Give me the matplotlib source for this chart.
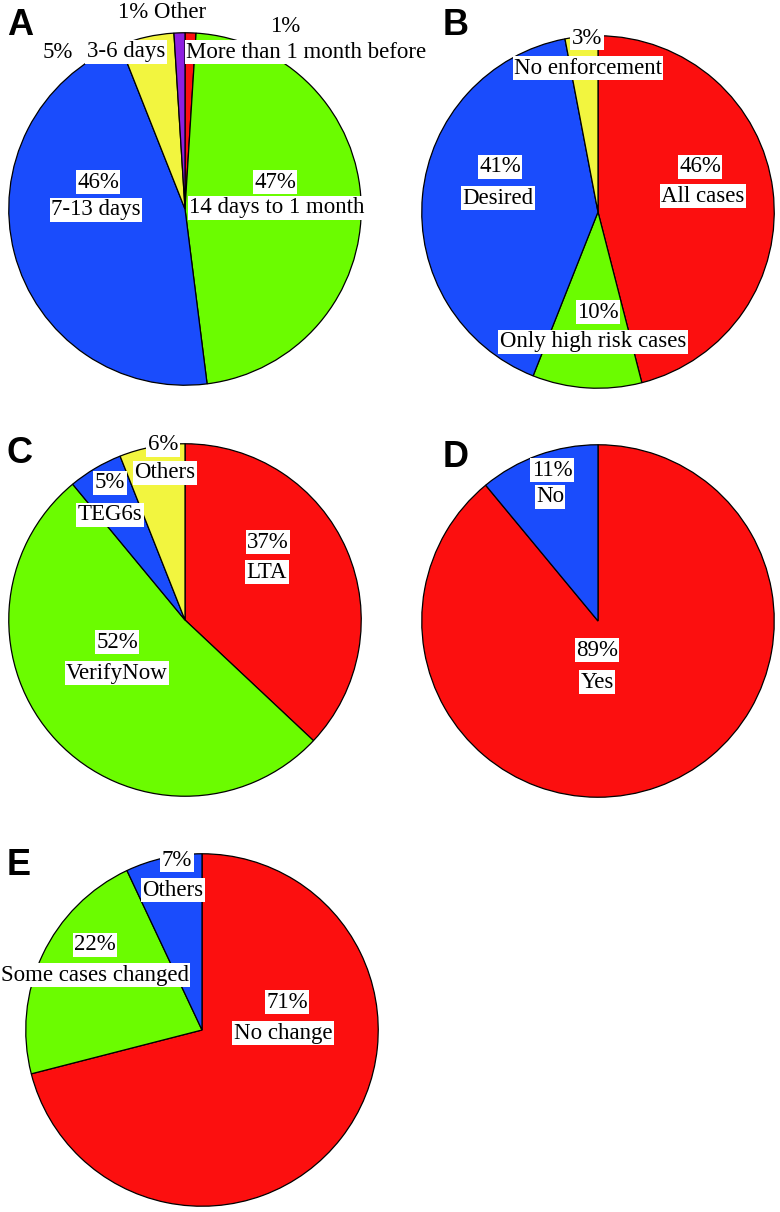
import matplotlib
matplotlib.use("Agg")
import matplotlib.pyplot as plt

W, H = 780, 1212
R = 178  # pie radius in px

red = '#FC0F0F'
green = '#6BFC00'
blue = '#1A4CFC'
yellow = '#F2F53F'
purple = '#8E1FE0'

# data, clockwise from 12 o'clock
a_vals = [1, 47, 46, 5, 1]
a_names = ['More than 1 month before', '14 days to 1 month', '7-13 days', '3-6 days', 'Other']
a_cols = [red, green, blue, yellow, purple]

b_vals = [46, 10, 41, 3]
b_names = ['All cases', 'Only high risk cases', 'Desired', 'No enforcement']
b_cols = [red, green, blue, yellow]

c_vals = [37, 52, 5, 6]
c_names = ['LTA', 'VerifyNow', 'TEG6s', 'Others']
c_cols = [red, green, blue, yellow]

d_vals = [89, 11]
d_names = ['Yes', 'No']
d_cols = [red, blue]

e_vals = [71, 22, 7]
e_names = ['No change', 'Some cases changed', 'Others']
e_cols = [red, green, blue]

# layout (pixels): pie centre, panel letter, label positions (pct xy, name xy)
panels = [
    ('A', (185, 209), (7, 35), a_vals, a_names, a_cols,
     [((285, 27), (306, 52)), ((275, 182), (277, 208)), ((98, 182), (96, 210)),
      ((58, 52), (126, 52)), None]),
    ('B', (598, 212), (443, 35), b_vals, b_names, b_cols,
     [((700, 167), (703, 196)), ((598, 312), (593, 342)), ((500, 167), (498, 198)),
      ((587, 38), (588, 68))]),
    ('C', (185, 620), (6, 463), c_vals, c_names, c_cols,
     [((268, 542), (267, 572)), ((117, 642), (117, 673)), ((110, 483), (110, 515)),
      ((163, 445), (165, 473))]),
    ('D', (598, 621), (443, 467), d_vals, d_names, d_cols,
     [((597, 650), (597, 682)), ((552, 470), (550, 497))]),
    ('E', (202, 1030), (7, 875), e_vals, e_names, e_cols,
     [((287, 1002), (283, 1033)), ((95, 945), (95, 975)), ((177, 860), (173, 890))]),
]

fig = plt.figure(figsize=(W / 100, H / 100), dpi=100)
fig.patch.set_facecolor('white')

serif = 'Liberation Serif'
fs = 16.5
box = dict(facecolor='white', edgecolor='none', pad=1.0)


def fx(x):
    return x / W


def fy(y):
    return 1 - y / H


for letter, (cx, cy), (lx, ly), vals, names, cols, pos in panels:
    ax = fig.add_axes([fx(cx - R), fy(cy + R), 2 * R / W, 2 * R / H])
    ax.pie(vals, colors=cols, startangle=90, counterclock=False, radius=1,
           wedgeprops=dict(edgecolor='black', linewidth=0.9))
    ax.set_xlim(-1.01, 1.01)
    ax.set_ylim(-1.01, 1.01)
    ax.set_aspect('equal')
    ax.axis('off')
    fig.text(fx(lx), fy(ly), letter, fontsize=26, fontweight='bold',
             family='Liberation Sans', ha='left', va='baseline')
    for v, name, p in zip(vals, names, pos):
        if p is None:
            continue
        (px, py), (nx, ny) = p
        fig.text(fx(px), fy(py), '%d%%' % v, fontsize=fs, family=serif,
                 ha='center', va='center', bbox=box, zorder=5)
        fig.text(fx(nx), fy(ny), name, fontsize=fs, family=serif,
                 ha='center', va='center', bbox=box, zorder=5)

# small "Other" slice of A is labelled on one line above the pie
fig.text(fx(162), fy(13), '%d%% %s' % (a_vals[4], a_names[4]), fontsize=fs,
         family=serif, ha='center', va='center', zorder=5)

fig.savefig('out.png', dpi=100, facecolor='white')
